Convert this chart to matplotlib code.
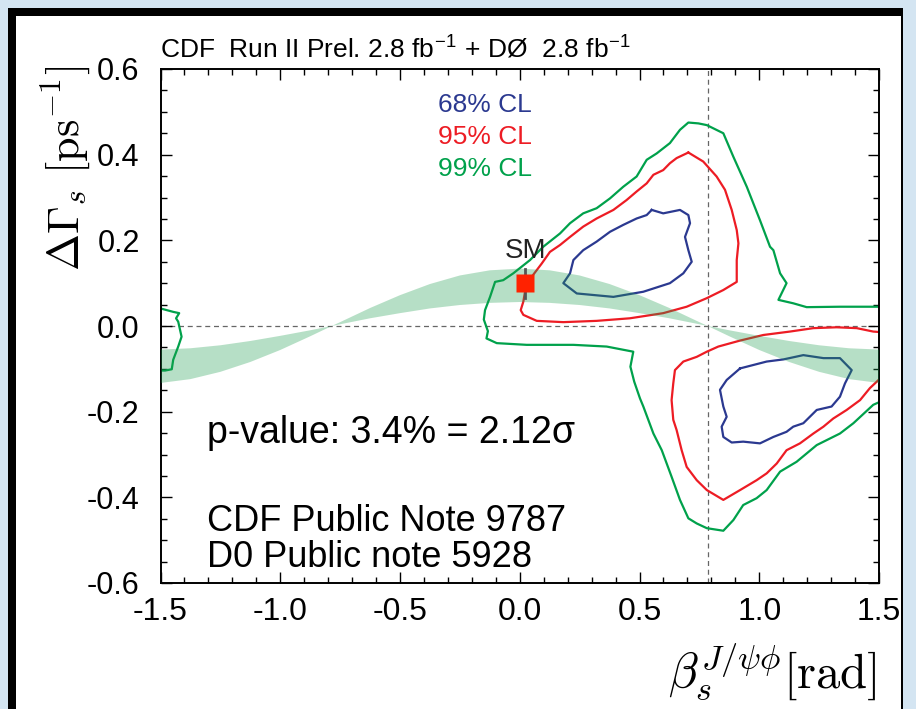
import matplotlib
matplotlib.use("Agg")
import matplotlib.pyplot as plt
from matplotlib.patches import Rectangle
from matplotlib.ticker import MultipleLocator

plt.rcParams['axes.unicode_minus'] = False
plt.rcParams['mathtext.fontset'] = 'cm'
plt.rcParams['font.family'] = ['Liberation Sans', 'DejaVu Sans']

# ------ CONFIDENCE REGIONS (beta_s [rad], DeltaGamma_s [ps^-1]) ------

# 68% CL, two closed islands
blue_up_x = [0.551, 0.599, 0.669, 0.704, 0.711, 0.690, 0.704, 0.718, 0.683, 0.627, 0.516, 0.391,
             0.238, 0.182, 0.210, 0.224, 0.265, 0.321, 0.377, 0.432, 0.488, 0.530, 0.551]
blue_up_y = [0.271, 0.263, 0.271, 0.259, 0.240, 0.208, 0.177, 0.150, 0.123, 0.100, 0.080, 0.068,
             0.076, 0.100, 0.123, 0.154, 0.177, 0.197, 0.220, 0.236, 0.251, 0.259, 0.271]
blue_lo_x = [0.920, 1.031, 1.101, 1.184, 1.268, 1.337, 1.386, 1.358, 1.337, 1.302, 1.240, 1.184,
             1.142, 1.114, 1.059, 1.003, 0.933, 0.885, 0.850, 0.843, 0.864, 0.850, 0.836, 0.864, 0.920]
blue_lo_y = [-0.099, -0.083, -0.078, -0.068, -0.075, -0.075, -0.103, -0.134, -0.165, -0.188, -0.196, -0.227,
             -0.235, -0.247, -0.259, -0.274, -0.270, -0.272, -0.259, -0.235, -0.212, -0.188, -0.149, -0.126, -0.099]

# 95% CL, closed upper island + lower one open at the right edge
red_up_x = [0.704, 0.766, 0.822, 0.857, 0.885, 0.906, 0.913, 0.906, 0.906, 0.850, 0.781, 0.697, 0.599,
            0.460, 0.321, 0.182, 0.071, 0.015, 0.004, 0.015, 0.022, 0.050, 0.092, 0.126, 0.168, 0.210,
            0.265, 0.321, 0.391, 0.446, 0.488, 0.530, 0.558, 0.599, 0.627, 0.655, 0.704]
red_up_y = [0.405, 0.384, 0.349, 0.318, 0.271, 0.224, 0.193, 0.154, 0.103, 0.084, 0.065, 0.045, 0.030,
            0.018, 0.012, 0.009, 0.012, 0.026, 0.037, 0.057, 0.080, 0.115, 0.146, 0.173, 0.189, 0.208,
            0.232, 0.251, 0.271, 0.294, 0.314, 0.333, 0.353, 0.364, 0.380, 0.392, 0.405]
red_lo_x = [1.500, 1.476, 1.407, 1.323, 1.226, 1.128, 1.017, 0.920, 0.829, 0.781, 0.739, 0.683, 0.648,
            0.641, 0.634, 0.641, 0.655, 0.676, 0.697, 0.739, 0.781, 0.850, 0.920, 0.989, 1.031, 1.073,
            1.114, 1.170, 1.226, 1.268, 1.309, 1.365, 1.421, 1.462, 1.483, 1.500]
red_lo_y = [-0.014, -0.013, -0.005, -0.003, -0.005, -0.013, -0.021, -0.034, -0.048, -0.060, -0.072, -0.083, -0.103,
            -0.134, -0.173, -0.219, -0.243, -0.290, -0.329, -0.360, -0.383, -0.406, -0.383, -0.360, -0.344, -0.321,
            -0.290, -0.274, -0.251, -0.235, -0.216, -0.196, -0.173, -0.145, -0.134, -0.125]

# 99% CL, one long open curve + a sliver at the left edge
green_x = [1.500, 1.476, 1.337, 1.198, 1.142, 1.080, 1.114, 1.087, 1.059, 1.045, 1.003, 0.948, 0.892,
           0.850, 0.781, 0.746, 0.704, 0.669, 0.627, 0.572, 0.530, 0.488, 0.432, 0.377, 0.321, 0.265,
           0.210, 0.168, 0.098, 0.043, -0.027, -0.069, -0.103, -0.124, -0.145, -0.150, -0.133, -0.139,
           -0.096, 0.029, 0.224, 0.363, 0.474, 0.462, 0.478, 0.502, 0.516, 0.558, 0.593, 0.634, 0.669,
           0.704, 0.739, 0.781, 0.850, 0.892, 0.933, 0.989, 1.031, 1.087, 1.156, 1.240, 1.337, 1.393,
           1.476, 1.500]
green_y = [0.045, 0.045, 0.045, 0.044, 0.053, 0.061, 0.100, 0.123, 0.177, 0.185, 0.247, 0.325, 0.395,
           0.450, 0.469, 0.473, 0.475, 0.458, 0.427, 0.403, 0.388, 0.349, 0.325, 0.298, 0.275, 0.263,
           0.240, 0.216, 0.185, 0.154, 0.123, 0.107, 0.103, 0.068, 0.037, 0.015, -0.012, -0.029,
           -0.040, -0.044, -0.044, -0.048, -0.060, -0.095, -0.130, -0.169, -0.188, -0.251, -0.290, -0.352, -0.406,
           -0.449, -0.461, -0.472, -0.478, -0.453, -0.418, -0.402, -0.383, -0.340, -0.317, -0.278, -0.251, -0.227,
           -0.184, -0.178]
green_edge_x = [-1.500, -1.447, -1.422, -1.435, -1.426, -1.412, -1.426, -1.447, -1.453, -1.481, -1.500]
green_edge_y = [0.041, 0.033, 0.030, 0.018, 0.010, -0.025, -0.048, -0.079, -0.101, -0.104, -0.104]

# ------ THEORY BAND 2|G12|cos(2 beta_s) ------
band_beta = [-1.5, -1.375, -1.25, -1.125, -1.0, -0.875, -0.785, -0.75, -0.625, -0.5, -0.375, -0.25, -0.125,
             0.0, 0.125, 0.25, 0.375, 0.5, 0.625, 0.75, 0.785, 0.875, 1.0, 1.125, 1.25, 1.375, 1.5]
band_hi = [-0.133, -0.124, -0.107, -0.084, -0.056, -0.024, 0.000, 0.009, 0.042, 0.072, 0.098, 0.118, 0.130,
           0.134, 0.130, 0.118, 0.098, 0.072, 0.042, 0.009, 0.000, -0.024, -0.056, -0.084, -0.107, -0.124, -0.133]
band_lo = [-0.055, -0.052, -0.045, -0.035, -0.023, -0.010, 0.000, 0.004, 0.018, 0.030, 0.041, 0.049, 0.054,
           0.056, 0.054, 0.049, 0.041, 0.030, 0.018, 0.004, 0.000, -0.010, -0.023, -0.035, -0.045, -0.052, -0.055]

# SM point and its error
sm_beta = 0.022
sm_dg = 0.100
sm_dg_lo = 0.065
sm_dg_hi = 0.132
beta_ref = 0.785

cl_labels = ["68% CL", "95% CL", "99% CL"]
c_blue, c_red, c_green = '#2b3990', '#ed1c24', '#00a14b'

W, H = 916, 709
fig = plt.figure(figsize=(W / 100, H / 100), dpi=100)
fig.patch.set_facecolor('#d4e5f2')
fig.add_artist(Rectangle((8 / W, 0), (903 - 8) / W, (H - 8) / H, transform=fig.transFigure,
                         facecolor='black', edgecolor='none', zorder=-2))
fig.add_artist(Rectangle((16 / W, 0), (901 - 16) / W, (H - 16) / H, transform=fig.transFigure,
                         facecolor='white', edgecolor='none', zorder=-1))

ax = fig.add_axes([160.5 / W, (H - 583) / H, (879 - 160.5) / W, (583 - 69) / H])
ax.set_facecolor('none')
ax.set_xlim(-1.5, 1.5)
ax.set_ylim(-0.6, 0.6)

lw = 1.6
ax.plot(green_x, green_y, color=c_green, lw=lw)
ax.plot(green_edge_x, green_edge_y, color=c_green, lw=lw)
ax.plot(red_up_x, red_up_y, color=c_red, lw=lw)
ax.plot(red_lo_x, red_lo_y, color=c_red, lw=lw)
ax.plot(blue_up_x, blue_up_y, color=c_blue, lw=lw)
ax.plot(blue_lo_x, blue_lo_y, color=c_blue, lw=lw)

ax.fill_between(band_beta, band_lo, band_hi, facecolor='#1e9e4e', alpha=0.32, lw=0, zorder=3)

ax.axhline(0, color='#666666', lw=0.9, ls=(0, (4, 3)), zorder=1)
ax.axvline(beta_ref, color='#666666', lw=0.9, ls=(0, (4, 3)), zorder=1)

ax.plot([sm_beta, sm_beta], [sm_dg_lo, sm_dg_hi], color='#555555', lw=2, zorder=4)
ax.plot(sm_beta, sm_dg, 's', color='#ff2200', ms=12.5, mec='none', zorder=5)
ax.text(sm_beta, 0.158, "SM", ha='center', va='baseline', fontsize=20, color='#222222')

for i, (lab, col) in enumerate(zip(cl_labels, [c_blue, c_red, c_green])):
    ax.text(-0.34, 0.500 - i * 0.075, lab, color=col, fontsize=19, va='baseline')

ax.text(-1.306, -0.272, "p-value: 3.4% = 2.12σ", fontsize=27, va='baseline')
ax.text(-1.306, -0.479, "CDF Public Note 9787", fontsize=26, va='baseline')
ax.text(-1.306, -0.563, "D0 Public note 5928", fontsize=26, va='baseline')

# axes styling
ax.xaxis.set_major_locator(MultipleLocator(0.5))
ax.xaxis.set_minor_locator(MultipleLocator(0.1))
ax.yaxis.set_major_locator(MultipleLocator(0.2))
ax.yaxis.set_minor_locator(MultipleLocator(0.05))
ax.set_xticklabels([f"{v:.1f}" for v in ax.get_xticks()])
ax.set_yticklabels([f"{v:.1f}" for v in ax.get_yticks()])
ax.tick_params(which='both', direction='in', top=True, right=True, width=1)
ax.tick_params(which='major', length=8)
ax.tick_params(which='minor', length=4)
ax.tick_params(axis='x', labelsize=23, pad=10)
ax.tick_params(axis='y', labelsize=22, pad=15)
for s in ax.spines.values():
    s.set_linewidth(1.4)

fig.text(160 / W, (H - 57) / H,
         r"CDF  Run II Prel. 2.8 fb$^{\mathregular{-1}}$ + DØ  2.8 fb$^{\mathregular{-1}}$",
         fontsize=19, va='baseline')

fig.text(66 / W, (H - 168) / H, r"$\Delta\Gamma_s\ [\mathrm{ps}^{-1}]$", rotation=90,
         fontsize=32, ha='center', va='center')
fig.text(877 / W, (H - 688) / H, r"$\beta_s^{J/\psi\phi}[\mathrm{rad}]$", fontsize=35,
         ha='right', va='baseline')

fig.savefig("out.png", dpi=100)
